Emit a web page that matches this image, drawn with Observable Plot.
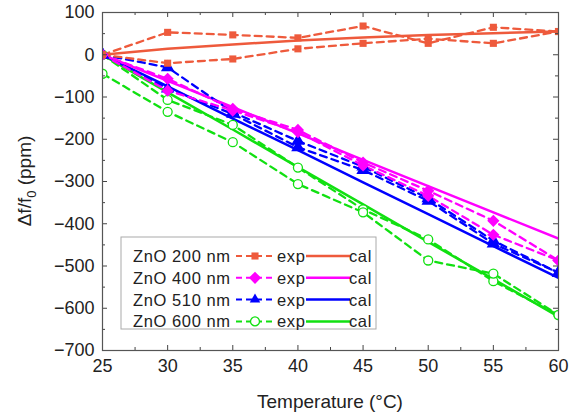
<!DOCTYPE html>
<html><head><meta charset="utf-8">
<script src="https://cdn.jsdelivr.net/npm/d3@7"></script>
<script src="https://cdn.jsdelivr.net/npm/@observablehq/plot@0.6"></script>
<style>
body{margin:0;background:#fff;}
#chart{position:relative;width:571px;height:419px;}
</style></head><body><div id="chart"></div>
<script>
// ---- data ----
const temps = [25, 30, 35, 40, 45, 50, 55, 60];
const zno200ExpA = [0, 53, 47, 40, 68, 27, 65, 55];
const zno200ExpB = [0, -20, -10, 14, 27, 38, 27, 55];
const zno200Cal  = [0, 14, 24, 34, 41, 47, 51, 55];
const zno400ExpA = [0, -57, -128, -178, -255, -322, -393, -487];
const zno400ExpB = [0, -85, -132, -183, -262, -334, -426, -487];
const zno400Cal  = [0, -62, -124, -186, -249, -311, -373, -435];
const zno510ExpA = [0, -30, -136, -204, -265, -340, -440, -516];
const zno510ExpB = [0, -80, -140, -219, -273, -346, -447, -516];
const zno510Cal  = [0, -75, -151, -226, -302, -377, -453, -528];
const zno600ExpA = [0, -107, -166, -267, -366, -437, -536, -616];
const zno600ExpB = [-45, -135, -207, -306, -373, -487, -518, -616];
const zno600Cal  = [0, -89, -177, -266, -354, -443, -531, -620];

const seriesNames = ["ZnO 200 nm", "ZnO 400 nm", "ZnO 510 nm", "ZnO 600 nm"];
const seriesColors = ["#ee5a3c", "#ff00ff", "#0000ff", "#11e011"];
const seriesSymbols = ["square", "diamond2", "triangle", "circle"];
const expLabel = "exp", calLabel = "cal";

const xTicks = [25, 30, 35, 40, 45, 50, 55, 60];
const xMinorTicks = [27.5, 32.5, 37.5, 42.5, 47.5, 52.5, 57.5];
const yTicks = [-700, -600, -500, -400, -300, -200, -100, 0, 100];
const yMinorTicks = [-650, -550, -450, -350, -250, -150, -50, 50];
const xTitle = "Temperature (\u00B0C)";

// ---- build tables ----
const rows = (vals) => temps.map((t, i) => ({t, v: vals[i]}));
const exps = [[zno200ExpA, zno200ExpB], [zno400ExpA, zno400ExpB], [zno510ExpA, zno510ExpB], [zno600ExpA, zno600ExpB]];
const cals = [zno200Cal, zno400Cal, zno510Cal, zno600Cal];

const W = 571, H = 419, mL = 102, mR = 13, mT = 12, mB = 69;
const innerW = W - mL - mR, innerH = H - mT - mB;

const marks = [];
const order = [3, 2, 1, 0];
for (const i of order) {
  marks.push(Plot.line(rows(cals[i]), {x: "t", y: "v", stroke: seriesColors[i], strokeWidth: 2.5, clip: true}));
}
for (const i of order) {
  for (const e of exps[i]) {
    marks.push(Plot.line(rows(e), {x: "t", y: "v", stroke: seriesColors[i], strokeWidth: 2.3, strokeDasharray: "7,5", clip: true}));
  }
}
for (const i of order) {
  for (const e of exps[i]) {
    const sym = seriesSymbols[i];
    const open = sym === "circle";
    marks.push(Plot.dot(rows(e), {x: "t", y: "v", symbol: sym,
      r: sym === "square" ? 4 : sym === "diamond2" ? 5.5 : sym === "triangle" ? 5 : 4.5,
      fill: open ? "white" : seriesColors[i], stroke: open ? seriesColors[i] : "none", strokeWidth: 1.3, clip: true}));
  }
}

// inward ticks
const tickStyle = {stroke: "#444", strokeWidth: 1};
marks.push(Plot.tickX(xTicks, {x: d => d, insetTop: innerH - 5, ...tickStyle}));
marks.push(Plot.tickX(xTicks, {x: d => d, insetBottom: innerH - 5, ...tickStyle}));
marks.push(Plot.tickX(xMinorTicks, {x: d => d, insetTop: innerH - 3, ...tickStyle}));
marks.push(Plot.tickX(xMinorTicks, {x: d => d, insetBottom: innerH - 3, ...tickStyle}));
marks.push(Plot.tickY(yTicks, {y: d => d, insetRight: innerW - 5, ...tickStyle}));
marks.push(Plot.tickY(yTicks, {y: d => d, insetLeft: innerW - 5, ...tickStyle}));
marks.push(Plot.tickY(yMinorTicks, {y: d => d, insetRight: innerW - 3, ...tickStyle}));
marks.push(Plot.tickY(yMinorTicks, {y: d => d, insetLeft: innerW - 3, ...tickStyle}));
marks.push(Plot.axisX({ticks: xTicks, tickSize: 0, tickPadding: 9, label: null, fill: "#222"}));
marks.push(Plot.axisY({ticks: yTicks, tickSize: 0, tickPadding: 8, label: null, fill: "#222"}));
marks.push(Plot.frame({stroke: "#555", strokeWidth: 1.2}));

const svg = Plot.plot({
  width: W, height: H,
  marginLeft: mL, marginRight: mR, marginTop: mT, marginBottom: mB,
  x: {domain: [25, 60]},
  y: {domain: [-700, 100]},
  style: {fontFamily: "'Liberation Sans', Arial, sans-serif", fontSize: "18px", background: "white", color: "#222"},
  marks
});
document.getElementById("chart").appendChild(svg);

// titles and legend
const s = d3.select(svg);
s.append("text").attr("x", mL + innerW / 2).attr("y", 408)
  .attr("text-anchor", "middle").attr("font-size", 19).attr("fill", "#222").text(xTitle);
const yt = s.append("text").attr("transform", `translate(31,${mT + innerH / 2}) rotate(-90)`)
  .attr("text-anchor", "middle").attr("font-size", 19).attr("fill", "#222");
yt.append("tspan").text("\u0394f/f");
yt.append("tspan").attr("font-size", 13).attr("dy", 5).text("0");
yt.append("tspan").attr("dy", -5).text(" (ppm)");

const lg = s.append("g").attr("font-size", 16.5).attr("fill", "#222").attr("text-anchor", "start").attr("letter-spacing", "0.6px");
lg.append("rect").attr("x", 121).attr("y", 237).attr("width", 255).attr("height", 92)
  .attr("fill", "white").attr("stroke", "#aaa").attr("stroke-width", 1);
seriesNames.forEach((name, i) => {
  const cy = 256 + i * 21.8;
  const c = seriesColors[i];
  lg.append("text").attr("x", 133).attr("y", cy + 6).attr("text-anchor", "start").text(name);
  lg.append("line").attr("x1", 236).attr("x2", 275).attr("y1", cy).attr("y2", cy)
    .attr("stroke", c).attr("stroke-width", 2).attr("stroke-dasharray", "6,4");
  const sym = seriesSymbols[i];
  const sz = {square: Math.PI * 16, diamond2: Math.PI * 30, triangle: Math.PI * 25, circle: Math.PI * 20}[sym];
  const st = {square: d3.symbolSquare, diamond2: d3.symbolDiamond2, triangle: d3.symbolTriangle2, circle: d3.symbolCircle}[sym];
  lg.append("path").attr("d", d3.symbol(st, sz)()).attr("transform", `translate(255,${cy})`)
    .attr("fill", sym === "circle" ? "white" : c).attr("stroke", sym === "circle" ? c : "none").attr("stroke-width", 1.3);
  lg.append("text").attr("x", 277).attr("y", cy + 6).attr("text-anchor", "start").text(expLabel);
  lg.append("line").attr("x1", 306).attr("x2", 350).attr("y1", cy).attr("y2", cy)
    .attr("stroke", c).attr("stroke-width", 2.5);
  lg.append("text").attr("x", 349).attr("y", cy + 6).attr("text-anchor", "start").text(calLabel);
});
</script></body></html>
